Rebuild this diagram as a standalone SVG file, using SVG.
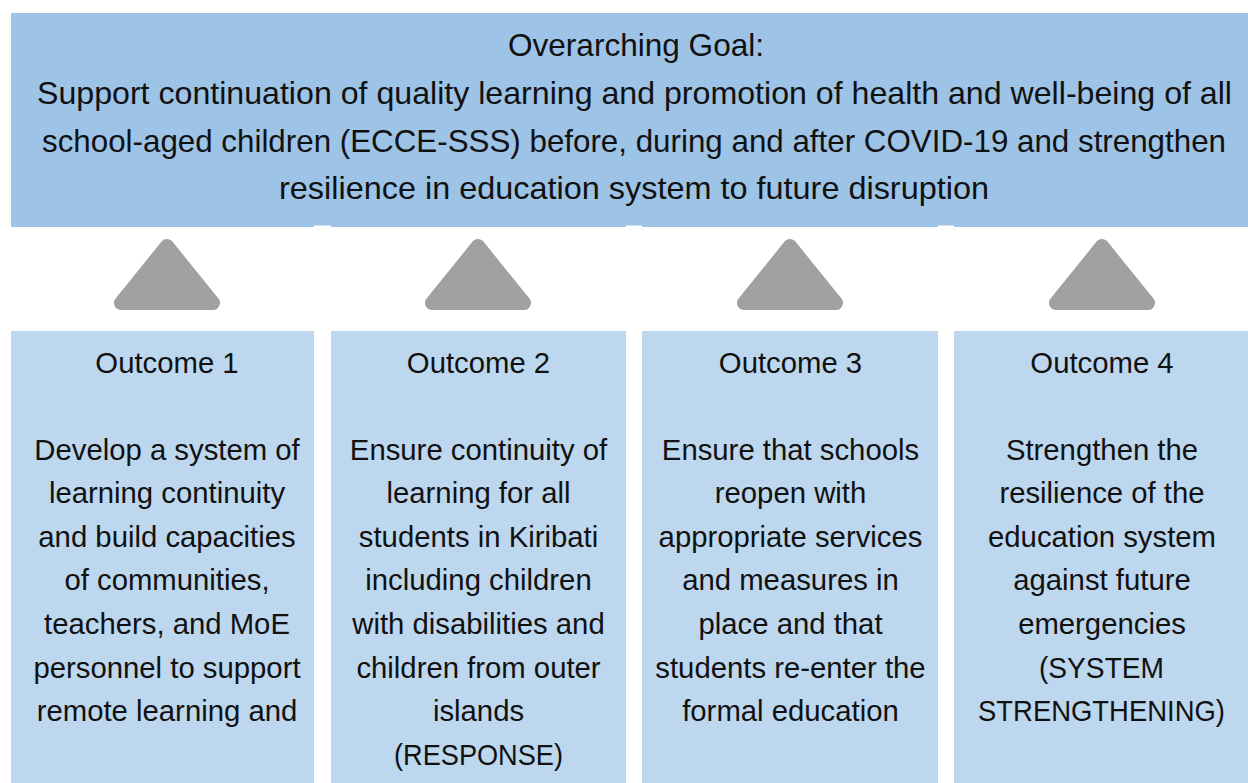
<svg xmlns="http://www.w3.org/2000/svg" width="1248" height="783" viewBox="0 0 1248 783">
<style>
.goal{fill:#9DC3E6}
.out{fill:#BDD7EE}
.gap{fill:#FFFFFF}
.tri{fill:#A1A1A1;stroke:#A1A1A1;stroke-width:14;stroke-linejoin:round}
text{font-family:"Liberation Sans",Arial,sans-serif;fill:#111;text-anchor:middle}
.t1{font-size:31.5px}
.t2{font-size:29.3px}
</style>
<defs>
<polygon id="arrowUp" class="tri" points="0,7 46,64 -46,64"/>
</defs>
<rect width="1248" height="783" fill="#FFFFFF"/>
<g id="goal">
<rect class="goal" x="11" y="13" width="1237" height="214"/>
<rect class="gap" x="314" y="225.5" width="17" height="2"/>
<rect class="gap" x="626" y="225.5" width="16" height="2"/>
<rect class="gap" x="938" y="225.5" width="16" height="2"/>
<text class="t1" x="636" y="56" textLength="256" lengthAdjust="spacingAndGlyphs">Overarching Goal:</text>
<text class="t1" x="634.5" y="104" textLength="1195" lengthAdjust="spacingAndGlyphs">Support continuation of quality learning and promotion of health and well-being of all</text>
<text class="t1" x="634" y="151.5" textLength="1184" lengthAdjust="spacingAndGlyphs">school-aged children (ECCE-SSS) before, during and after COVID-19 and strengthen</text>
<text class="t1" x="634" y="199" textLength="710" lengthAdjust="spacingAndGlyphs">resilience in education system to future disruption</text>
</g>
<g id="connectors">
<use href="#arrowUp" x="167" y="239"/>
<use href="#arrowUp" x="478" y="239"/>
<use href="#arrowUp" x="790" y="239"/>
<use href="#arrowUp" x="1102" y="239"/>
</g>
<g id="outcome1">
<rect class="out" x="11" y="331" width="303" height="452"/>
<text class="t2" x="167" y="372.5">Outcome 1</text>
<text class="t2" x="167" y="459.5">Develop a system of</text>
<text class="t2" x="167" y="503.1">learning continuity</text>
<text class="t2" x="167" y="546.8">and build capacities</text>
<text class="t2" x="167" y="590.4">of communities,</text>
<text class="t2" x="167" y="634.1">teachers, and MoE</text>
<text class="t2" x="167" y="677.7">personnel to support</text>
<text class="t2" x="167" y="721.4">remote learning and</text>
</g>
<g id="outcome2">
<rect class="out" x="331" y="331" width="295" height="452"/>
<text class="t2" x="478.5" y="372.5">Outcome 2</text>
<text class="t2" x="478.5" y="459.5">Ensure continuity of</text>
<text class="t2" x="478.5" y="503.1">learning for all</text>
<text class="t2" x="478.5" y="546.8">students in Kiribati</text>
<text class="t2" x="478.5" y="590.4">including children</text>
<text class="t2" x="478.5" y="634.1">with disabilities and</text>
<text class="t2" x="478.5" y="677.7">children from outer</text>
<text class="t2" x="478.5" y="721.4">islands</text>
<text class="t2" x="478.5" y="765" textLength="169" lengthAdjust="spacingAndGlyphs">(RESPONSE)</text>
</g>
<g id="outcome3">
<rect class="out" x="642" y="331" width="296" height="452"/>
<text class="t2" x="790.5" y="372.5">Outcome 3</text>
<text class="t2" x="790.5" y="459.5">Ensure that schools</text>
<text class="t2" x="790.5" y="503.1">reopen with</text>
<text class="t2" x="790.5" y="546.8">appropriate services</text>
<text class="t2" x="790.5" y="590.4">and measures in</text>
<text class="t2" x="790.5" y="634.1">place and that</text>
<text class="t2" x="790.5" y="677.7">students re-enter the</text>
<text class="t2" x="790.5" y="721.4">formal education</text>
</g>
<g id="outcome4">
<rect class="out" x="954" y="331" width="294" height="452"/>
<text class="t2" x="1102" y="372.5">Outcome 4</text>
<text class="t2" x="1102" y="459.5">Strengthen the</text>
<text class="t2" x="1102" y="503.1">resilience of the</text>
<text class="t2" x="1102" y="546.8">education system</text>
<text class="t2" x="1102" y="590.4">against future</text>
<text class="t2" x="1102" y="634.1">emergencies</text>
<text class="t2" x="1101.5" y="677.7" textLength="125" lengthAdjust="spacingAndGlyphs">(SYSTEM</text>
<text class="t2" x="1101.5" y="721.4" textLength="247" lengthAdjust="spacingAndGlyphs">STRENGTHENING)</text>
</g>
</svg>
